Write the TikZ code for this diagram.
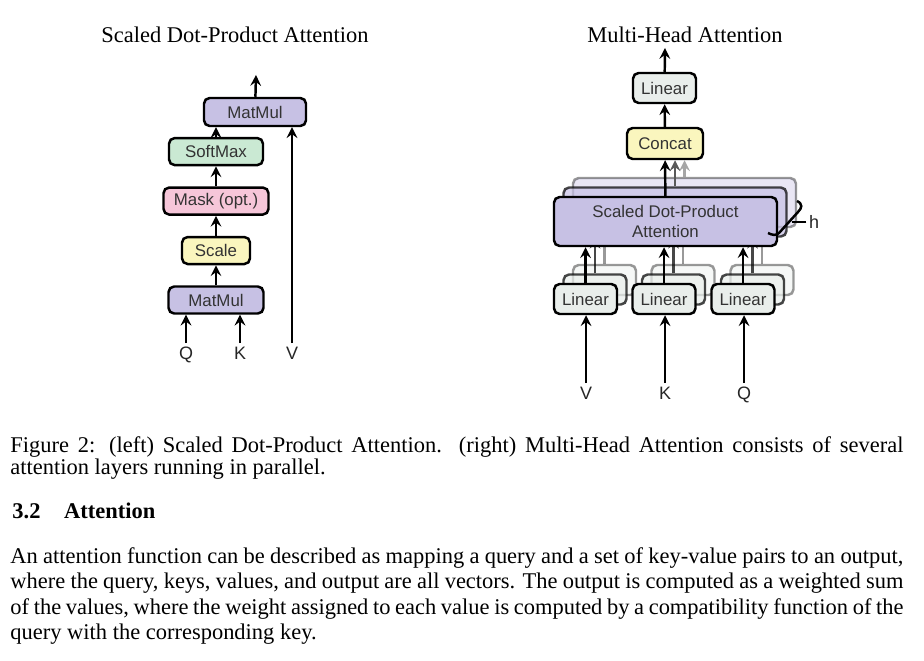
\documentclass[tikz,border=0pt]{standalone}
\usepackage{fontspec}
\setmainfont{Liberation Serif}
\setsansfont{Liberation Sans}
\usetikzlibrary{positioning, arrows}

\newlength\pxu
\setlength\pxu{0.445pt}
\definecolor{mulpurple}{RGB}{199,193,228}
\definecolor{smgreen}{RGB}{202,233,211}
\definecolor{mkpink}{RGB}{246,198,217}
\definecolor{scyellow}{RGB}{250,246,190}
\definecolor{lingray}{RGB}{233,238,235}

\begin{document}
\begin{tikzpicture}[x=\pxu, y=-\pxu, >=stealth, node distance=20\pxu,
    blk/.style={draw, line width=1.1pt, rounded corners=2.5pt, inner sep=0pt,
      minimum height=27\pxu, text=black!80,
      font=\sffamily\fontsize{7.5}{9}\selectfont},
    io/.style={inner sep=1pt, text height=6pt, text depth=0.5pt, text=black!85,
      font=\sffamily\fontsize{8}{9}\selectfont},
    flow/.style={->, line width=1.1pt},
    title/.style={font=\fontsize{10}{12}\selectfont},
    txtline/.style={anchor=base west, inner sep=0pt, font=\fontsize{10}{11}\selectfont}]
  \useasboundingbox (0,0) rectangle (924,661);

  % scaled dot-product attention
  \node[title] (lt) at (235,35) {Scaled Dot-Product Attention};
  \node[blk, fill=mulpurple, minimum width=95\pxu] (mm1) at (216,300) {MatMul};
  \node[blk, fill=scyellow, minimum width=68\pxu, above=of mm1] (sc) {Scale};
  \node[blk, fill=mkpink, minimum width=105\pxu, above=of sc] (mk) {Mask (opt.)};
  \node[blk, fill=smgreen, minimum width=94\pxu, above=of mk] (sm) {SoftMax};
  \node[blk, fill=mulpurple, minimum width=102\pxu, minimum height=28\pxu] (mm2) at (255,112) {MatMul};
  \node[io] (q) at (186,353) {Q};
  \node[io] (k) at (240,353) {K};
  \node[io] (v) at (292,353) {V};
  \coordinate (out1) at (256,75);

  \draw[flow] (q) -- (q |- mm1.south);
  \draw[flow] (k) -- (k |- mm1.south);
  \draw[flow] (v) -- (v |- mm2.south);
  \draw[flow] (mm1) -- (sc);
  \draw[flow] (sc) -- (mk);
  \draw[flow] (mk) -- (sm);
  \draw[flow] (sm) -- (sm |- mm2.south);
  \draw[flow] (mm2) -- (out1);

  % multi-head attention
  \node[title] (rt) at (685,35) {Multi-Head Attention};
  \foreach \d/\n/\op in {19/b/0.4, 9.5/a/0.72} {
    \begin{scope}[shift={(\d,-\d)}, opacity=\op]
      \node[blk, fill=mulpurple, minimum width=223\pxu, minimum height=49\pxu] (sdpa\n) at (665.5,221.5) {};
      \node[blk, fill=lingray, minimum width=63\pxu, minimum height=30\pxu] (la\n) at (585.5,299) {};
      \node[blk, fill=lingray, minimum width=63\pxu, minimum height=30\pxu] (lb\n) at (664,299) {};
      \node[blk, fill=lingray, minimum width=63\pxu, minimum height=30\pxu] (lc\n) at (743,299) {};
      \draw[flow] (la\n) -- (la\n |- sdpa\n.south);
      \draw[flow] (lb\n) -- (lb\n |- sdpa\n.south);
      \draw[flow] (lc\n) -- (lc\n |- sdpa\n.south);
    \end{scope}
  }
  \node[blk, fill=lingray, minimum width=63\pxu, minimum height=30\pxu] (lin) at (664.5,88) {Linear};
  \node[blk, fill=scyellow, minimum width=76\pxu, minimum height=31\pxu] (cat) at (665,143.5) {Concat};
  \node[blk, fill=mulpurple, minimum width=223\pxu, minimum height=49\pxu, align=center] (sdpa) at (665.5,221.5) {Scaled Dot-Product\\Attention};
  \node[blk, fill=lingray, minimum width=63\pxu, minimum height=30\pxu] (la) at (585.5,299) {Linear};
  \node[blk, fill=lingray, minimum width=63\pxu, minimum height=30\pxu] (lb) at (664,299) {Linear};
  \node[blk, fill=lingray, minimum width=63\pxu, minimum height=30\pxu] (lc) at (743,299) {Linear};
  \node[io] (vv) at (586,393) {V};
  \node[io] (kk) at (665,393) {K};
  \node[io] (qq) at (744,393) {Q};
  \node[io] (h) at (814,222) {h};
  \coordinate (out2) at (665,48);

  \draw[flow, black!35] (sdpab.north) -- (sdpab.north |- cat.south);
  \draw[flow, black!65] (sdpaa.north) -- (sdpaa.north |- cat.south);
  \draw[flow] (sdpa) -- (cat);
  \draw[flow] (cat) -- (lin);
  \draw[flow] (lin) -- (out2);
  \draw[flow] (la) -- (la |- sdpa.south);
  \draw[flow] (lb) -- (lb |- sdpa.south);
  \draw[flow] (lc) -- (lc |- sdpa.south);
  \draw[flow] (vv) -- (vv |- la.south);
  \draw[flow] (kk) -- (kk |- lb.south);
  \draw[flow] (qq) -- (qq |- lc.south);
  \draw[line width=1.1pt] (797,201) .. controls (803,204) and (802,208) .. (798,212)
    -- (779,233) .. controls (776,236) and (772,235) .. (768,233);
  \draw[line width=1.1pt] (h.west) -- (792,222);

  % caption and text
  \node[txtline] (c1) at (10,452) {\makebox[893\pxu][s]{Figure 2: (left) Scaled Dot-Product Attention. (right) Multi-Head Attention consists of several}};
  \node[txtline] (c2) at (10,474) {attention layers running in parallel.};
  \node[txtline] (sec) at (12,518) {\bfseries 3.2\hspace{1.05em}Attention};
  \node[txtline] (p1) at (10,563) {\makebox[893\pxu][s]{An attention function can be described as mapping a query and a set of key-value pairs to an output,}};
  \node[txtline] (p2) at (10,588) {\makebox[893\pxu][s]{where the query, keys, values, and output are all vectors. The output is computed as a weighted sum}};
  \node[txtline] (p3) at (10,614) {\makebox[893\pxu][s]{of the values, where the weight assigned to each value is computed by a compatibility function of the}};
  \node[txtline] (p4) at (10,639) {query with the corresponding key.};
\end{tikzpicture}
\end{document}
